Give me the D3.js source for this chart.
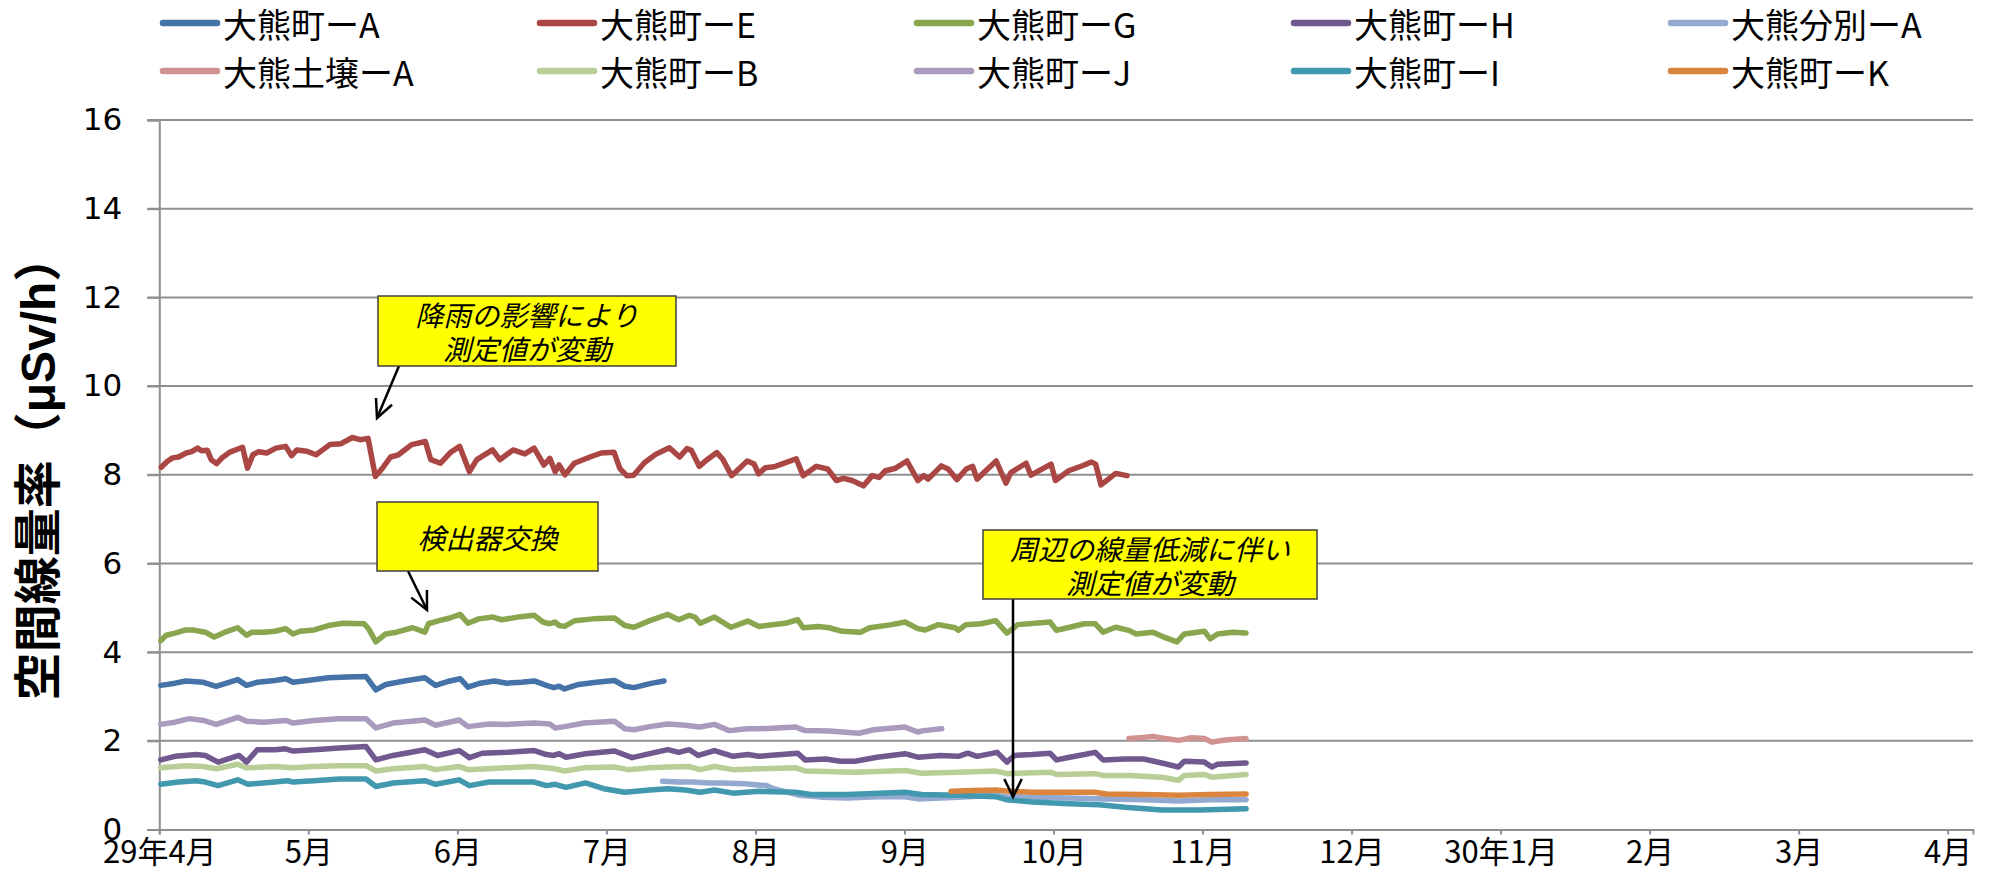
<!DOCTYPE html>
<html><head><meta charset="utf-8">
<script src="https://cdn.jsdelivr.net/npm/d3@7/dist/d3.min.js"></script>
<style>body{margin:0;background:#fff}svg{display:block}</style>
</head><body>
<svg id="c" width="1997" height="879"></svg>
<script>
// x values: days since 2017-04-01; y: µSv/h
const monthLabels = ["29年4月","5月","6月","7月","8月","9月","10月","11月","12月","30年1月","2月","3月","4月"];
const yTicks = [0,2,4,6,8,10,12,14,16];
const seriesNames = ["大熊町ーA","大熊町ーE","大熊町ーG","大熊町ーH","大熊分別ーA","大熊土壌ーA","大熊町ーB","大熊町ーJ","大熊町ーI","大熊町ーK"];
const seriesColors = ["#4572A7","#AA4643","#89A54E","#71588F","#93A9CF","#D19392","#B9CD96","#A99BBD","#4198AF","#DB843D"];

const dataA = [[0.3,3.25],[3.2,3.3],[5.4,3.35],[9,3.32],[11.6,3.23],[16,3.38],[17.8,3.25],[20,3.32],[23.6,3.36],[25.8,3.4],[27.3,3.32],[30.2,3.36],[34.5,3.42],[38.2,3.44],[42.2,3.45],[44.2,3.15],[46.2,3.27],[50.6,3.36],[54.2,3.42],[56.4,3.25],[59.3,3.35],[61.4,3.4],[63,3.21],[65.5,3.3],[68.4,3.35],[71,3.3],[73.9,3.32],[76.5,3.35],[79,3.25],[80.5,3.2],[81.6,3.23],[82.7,3.17],[85.6,3.27],[89.2,3.32],[92.9,3.36],[95,3.23],[96.9,3.2],[100.1,3.29],[103,3.35]];
const dataE = [[0.4,8.17],[1.6,8.3],[2.7,8.38],[3.9,8.4],[5.5,8.49],[6.6,8.52],[7.8,8.6],[8.6,8.54],[9.8,8.55],[10.6,8.34],[11.7,8.25],[12.9,8.39],[14.4,8.51],[17,8.62],[18,8.15],[19.1,8.45],[20.3,8.52],[21.9,8.49],[23.8,8.6],[25.8,8.64],[27,8.43],[28.1,8.56],[30.1,8.53],[32,8.45],[33.2,8.55],[34.8,8.68],[37.1,8.7],[39.4,8.84],[41,8.79],[42.6,8.82],[44.1,7.96],[45.7,8.17],[47.2,8.4],[48.8,8.45],[51.5,8.68],[54.3,8.75],[55.4,8.34],[57.4,8.26],[59.4,8.5],[61.3,8.64],[63.3,8.07],[64.8,8.34],[68,8.56],[69.5,8.34],[72.2,8.56],[74.6,8.47],[76.5,8.6],[78.5,8.22],[79.7,8.37],[80.8,8.07],[81.6,8.22],[82.8,8.0],[84.7,8.26],[87.9,8.4],[90.2,8.49],[92.8,8.51],[94,8.14],[95.4,7.98],[96.8,7.99],[99,8.27],[101.3,8.46],[104.1,8.61],[106.2,8.4],[107.7,8.59],[108.6,8.55],[110.2,8.19],[111.8,8.34],[113.8,8.5],[115,8.35],[116.8,7.98],[120,8.31],[121.4,8.24],[122.3,8.02],[123.7,8.16],[125.5,8.18],[127.3,8.25],[130,8.36],[131.4,7.98],[134.1,8.19],[136.4,8.13],[138.2,7.87],[139.6,7.92],[141.4,7.87],[143.7,7.75],[145.5,7.98],[146.9,7.94],[148.2,8.09],[150.1,8.14],[152.6,8.31],[154.8,7.87],[156,7.98],[156.9,7.9],[159.6,8.2],[161,8.13],[162.8,7.89],[164.7,8.13],[166,8.19],[166.9,7.9],[168.3,8.05],[170.8,8.31],[172.8,7.81],[173.8,8.05],[176.9,8.26],[177.9,7.99],[182,8.24],[182.9,7.87],[185.6,8.09],[188.8,8.22],[190.2,8.29],[191.1,8.24],[192.2,7.77],[195.2,8.03],[197.5,7.98]];
const dataG = [[0.3,4.26],[1.4,4.38],[3.2,4.43],[5.4,4.5],[6.9,4.5],[9.4,4.45],[11.2,4.34],[13.4,4.45],[16,4.55],[17.8,4.38],[18.9,4.45],[21.4,4.45],[23.6,4.47],[25.8,4.53],[27.3,4.41],[28.7,4.47],[31.6,4.5],[34.5,4.6],[37.5,4.65],[41.8,4.64],[42.7,4.53],[44.2,4.23],[46.2,4.41],[48.4,4.45],[51.7,4.55],[54.2,4.45],[54.95,4.64],[57.1,4.71],[59.3,4.77],[61.4,4.85],[63,4.65],[65.2,4.75],[68.1,4.79],[69.9,4.73],[73.2,4.79],[76.5,4.83],[78.3,4.68],[79.7,4.64],[80.8,4.68],[81.6,4.6],[82.7,4.58],[84.8,4.71],[88.5,4.75],[92.9,4.77],[95,4.6],[96.9,4.56],[100.1,4.71],[103.8,4.85],[106,4.73],[108.2,4.83],[109.3,4.79],[110.4,4.65],[113.3,4.79],[116.7,4.56],[120.1,4.7],[122.4,4.58],[127.7,4.65],[130.3,4.73],[131.4,4.55],[134.5,4.58],[136.7,4.55],[139.4,4.47],[143.1,4.45],[145,4.55],[149.5,4.62],[152.2,4.68],[154.8,4.53],[156.3,4.5],[159,4.62],[162.4,4.55],[163.1,4.49],[164.6,4.62],[167.7,4.64],[170.7,4.71],[173,4.43],[175.2,4.62],[178.6,4.65],[181.8,4.68],[183.1,4.49],[185.8,4.56],[188.8,4.64],[191,4.64],[192.6,4.45],[195.2,4.56],[197.9,4.49],[199.4,4.41],[202.8,4.45],[205,4.34],[207.7,4.23],[209.2,4.41],[213.3,4.47],[214.5,4.3],[216,4.41],[219,4.45],[221.8,4.43]];
const dataH = [[0.3,1.57],[3.2,1.65],[7.6,1.69],[9.4,1.67],[12,1.52],[16.3,1.67],[17.8,1.52],[20,1.8],[23.6,1.8],[25.8,1.82],[27.3,1.77],[31.6,1.8],[36.7,1.84],[42.2,1.87],[44.2,1.57],[47.7,1.67],[54.2,1.8],[56.8,1.67],[61.2,1.78],[63.3,1.62],[65.9,1.72],[71,1.74],[76.5,1.78],[79,1.69],[80.5,1.67],[81.6,1.71],[83,1.63],[87,1.71],[92.9,1.77],[96.5,1.62],[100.1,1.71],[103.8,1.8],[106,1.74],[108.2,1.8],[110,1.67],[113.3,1.78],[117.1,1.65],[120.1,1.69],[122.4,1.65],[130.3,1.72],[131.8,1.57],[136,1.59],[139,1.54],[142,1.54],[146.5,1.63],[152.2,1.71],[154.8,1.63],[159.4,1.67],[163.1,1.65],[165,1.72],[166.9,1.65],[171,1.74],[173,1.52],[174.5,1.67],[178.2,1.69],[181.8,1.72],[183.1,1.57],[185.8,1.63],[188.8,1.69],[191,1.74],[192.6,1.57],[197.1,1.59],[200.9,1.59],[204.6,1.5],[208,1.41],[209.2,1.54],[213.3,1.52],[214.8,1.41],[216,1.47],[221.8,1.5]];
const dataBunbetsuA = [[102.7,1.09],[106,1.07],[108.9,1.07],[112.2,1.05],[114.8,1.05],[119.4,1.03],[123.9,0.99],[125.4,0.92],[130.7,0.77],[135.2,0.73],[140.5,0.71],[146.5,0.74],[152.2,0.74],[154.8,0.69],[163.1,0.73],[170.7,0.77],[173,0.74],[178.2,0.73],[185.8,0.71],[193.3,0.69],[200.9,0.67],[208,0.64],[214.4,0.67],[221.8,0.67]];
const dataDojoA = [[197.9,2.05],[200.1,2.07],[202.8,2.1],[205.4,2.05],[208,2.01],[210.7,2.07],[213.3,2.05],[214.8,1.97],[217.5,2.02],[221.8,2.05]];
const dataB = [[0.3,1.39],[5.4,1.44],[9,1.42],[11.6,1.37],[16,1.47],[17.8,1.39],[23.6,1.42],[27.3,1.39],[31.6,1.42],[36.7,1.44],[42.2,1.44],[44.2,1.32],[47.7,1.37],[54.2,1.42],[56.4,1.35],[61.2,1.42],[63,1.35],[71,1.39],[76.5,1.42],[80.8,1.37],[82.7,1.32],[86.7,1.39],[92.9,1.41],[95.7,1.35],[100.1,1.39],[103.8,1.41],[108.2,1.42],[110.4,1.35],[113.3,1.42],[117.1,1.35],[122.4,1.37],[129.9,1.39],[131.8,1.32],[142,1.29],[152.2,1.33],[155.6,1.27],[163.1,1.29],[170.7,1.32],[173,1.26],[182,1.29],[183.1,1.24],[191,1.26],[192.6,1.22],[197.9,1.22],[204.6,1.18],[208,1.11],[209.2,1.22],[213.3,1.24],[214.8,1.18],[221.8,1.24]];
const dataJ = [[0.3,2.37],[3.2,2.42],[6.1,2.5],[9,2.46],[11.6,2.37],[16,2.53],[17.8,2.44],[21.4,2.42],[25.8,2.46],[27.3,2.4],[31.6,2.46],[36.7,2.5],[42.2,2.5],[44.2,2.29],[47.7,2.4],[54.2,2.47],[56.4,2.35],[61.2,2.47],[63,2.32],[67.3,2.38],[71,2.37],[76.5,2.4],[79.7,2.38],[80.8,2.29],[82.7,2.32],[86.7,2.4],[92.9,2.44],[95,2.27],[96.9,2.25],[100.1,2.32],[103.8,2.38],[107.4,2.35],[110.3,2.31],[113.3,2.37],[116.3,2.23],[120.1,2.27],[122.4,2.27],[126.1,2.29],[129.9,2.31],[131.8,2.23],[136.7,2.22],[142.8,2.17],[145.8,2.25],[152.2,2.31],[154.8,2.2],[156,2.23],[159.7,2.27]];
const dataI = [[0.3,1.02],[3.9,1.07],[7.6,1.1],[9.4,1.07],[12,0.99],[16,1.12],[18.1,1.02],[23.6,1.07],[26.2,1.1],[27.3,1.07],[31.6,1.1],[36.7,1.14],[42.2,1.14],[44.2,0.97],[47.7,1.05],[54.2,1.1],[56.4,1.02],[61.2,1.12],[63.3,0.99],[67.3,1.07],[71,1.07],[76.5,1.07],[79,0.99],[80.8,1.02],[83,0.95],[87,1.05],[90.7,0.92],[95,0.84],[100.1,0.89],[103.8,0.92],[107.4,0.89],[110.4,0.84],[113.3,0.89],[117.1,0.82],[122.4,0.86],[129.9,0.84],[133,0.79],[140.5,0.79],[152.2,0.84],[155.6,0.79],[163.1,0.77],[170.7,0.74],[173,0.67],[178.2,0.62],[185.8,0.58],[191.8,0.56],[197.1,0.5],[204.6,0.44],[212.2,0.44],[221.8,0.47]];
const dataK = [[161.6,0.86],[166.2,0.88],[170.7,0.89],[173.7,0.86],[178.2,0.84],[185.8,0.84],[191,0.84],[193.3,0.8],[200.9,0.79],[208,0.77],[214.4,0.79],[221.8,0.8]];
const allSeries = [dataA,dataE,dataG,dataH,dataBunbetsuA,dataDojoA,dataB,dataJ,dataI,dataK];

const notes = [
  {lines:["降雨の影響により","測定値が変動"], box:[378,296,298,70], arrow:[399,366,377,418]},
  {lines:["検出器交換"], box:[377,502,221,69], arrow:[408,571,427,610]},
  {lines:["周辺の線量低減に伴い","測定値が変動"], box:[983,530,334,69], arrow:[1013,599,1013,797]}
];

const svg = d3.select("#c");
const L = 159.3, R = 1973, T = 120, B = 829.5;
const pxPerDay = (1947.7 - L) / 365;
const x = d3.scaleLinear().domain([0, (R - L) / pxPerDay]).range([L, R]);
const y = d3.scaleLinear().domain([0, 16]).range([B, T]);
const grid = "#8f8f8f";
const cjk = "'Noto Sans CJK JP', sans-serif";

// gridlines
svg.append("g").selectAll("line").data(yTicks.filter(v => v > 0)).join("line")
  .attr("x1", L - 12).attr("x2", R).attr("y1", d => y(d)).attr("y2", d => y(d))
  .attr("stroke", grid).attr("stroke-width", 2);

// y axis
const yAxis = svg.append("g").attr("transform", `translate(${L},0)`)
  .call(d3.axisLeft(y).tickValues(yTicks).tickSize(12).tickPadding(25));
yAxis.select(".domain").attr("stroke", grid).attr("stroke-width", 2);
yAxis.selectAll(".tick line").attr("stroke", grid).attr("stroke-width", 2);
yAxis.selectAll("text").attr("font-family", "'DejaVu Sans', sans-serif")
  .attr("font-size", 31).attr("fill", "#000");

// x axis
const monthTicks = monthLabels.map((_, i) => i * 365 / 12);
const xAxis = svg.append("g").attr("transform", `translate(0,${B})`)
  .call(d3.axisBottom(x).tickValues(monthTicks).tickSize(5).tickPadding(6)
    .tickFormat((d, i) => monthLabels[i]));
xAxis.select(".domain").attr("stroke", grid).attr("stroke-width", 2);
xAxis.selectAll(".tick line").attr("stroke", grid).attr("stroke-width", 2);
xAxis.selectAll("text").attr("font-family", cjk).attr("font-size", 31).attr("fill", "#000");

// y title
svg.append("text").attr("transform", "translate(38,467) rotate(-90)")
  .attr("text-anchor", "middle").attr("dominant-baseline", "central")
  .attr("font-family", "'Liberation Sans', 'Noto Sans CJK JP', sans-serif")
  .attr("font-weight", "bold").attr("font-size", 48)
  .text("空間線量率（μSv/h）");

// lines
const line = d3.line().x(d => x(d[0])).y(d => y(d[1]));
svg.append("g").selectAll("path").data(allSeries).join("path")
  .attr("d", line).attr("fill", "none")
  .attr("stroke", (d, i) => seriesColors[i]).attr("stroke-width", 5.5)
  .attr("stroke-linejoin", "round").attr("stroke-linecap", "round");

// legend
const lg = svg.append("g");
seriesNames.forEach((n, i) => {
  const col = i % 5, row = Math.floor(i / 5);
  const lx = 163 + col * 377, ly = 23 + row * 48;
  lg.append("line").attr("x1", lx).attr("x2", lx + 54).attr("y1", ly).attr("y2", ly)
    .attr("stroke", seriesColors[i]).attr("stroke-width", 6.5).attr("stroke-linecap", "round");
  lg.append("text").attr("x", lx + 60).attr("y", ly).attr("dominant-baseline", "central")
    .attr("font-family", cjk).attr("font-size", 34).attr("fill", "#000").text(n);
});

// annotations
const ng = svg.append("g");
function arrowHead(x1, y1, x2, y2) {
  const a = Math.atan2(y2 - y1, x2 - x1), len = 20, sp = 0.45;
  return `M${x2 - len * Math.cos(a - sp)},${y2 - len * Math.sin(a - sp)}L${x2},${y2}L${x2 - len * Math.cos(a + sp)},${y2 - len * Math.sin(a + sp)}`;
}
notes.forEach(n => {
  const [bx, by, bw, bh] = n.box, [x1, y1, x2, y2] = n.arrow;
  ng.append("line").attr("x1", x1).attr("y1", y1).attr("x2", x2).attr("y2", y2)
    .attr("stroke", "#000").attr("stroke-width", 2.5);
  ng.append("path").attr("d", arrowHead(x1, y1, x2, y2)).attr("fill", "none")
    .attr("stroke", "#000").attr("stroke-width", 2.5);
  ng.append("rect").attr("x", bx).attr("y", by).attr("width", bw).attr("height", bh)
    .attr("fill", "#FFFF00").attr("stroke", "#404040").attr("stroke-width", 1.5);
  const lh = 34, cy = by + bh / 2 - (n.lines.length - 1) * lh / 2;
  n.lines.forEach((t, k) => {
    ng.append("text").attr("x", bx + bw / 2).attr("y", cy + k * lh)
      .attr("text-anchor", "middle").attr("dominant-baseline", "central")
      .attr("font-family", cjk).attr("font-style", "italic").attr("font-size", 28)
      .attr("fill", "#000").text(t);
  });
});
</script>
</body></html>
